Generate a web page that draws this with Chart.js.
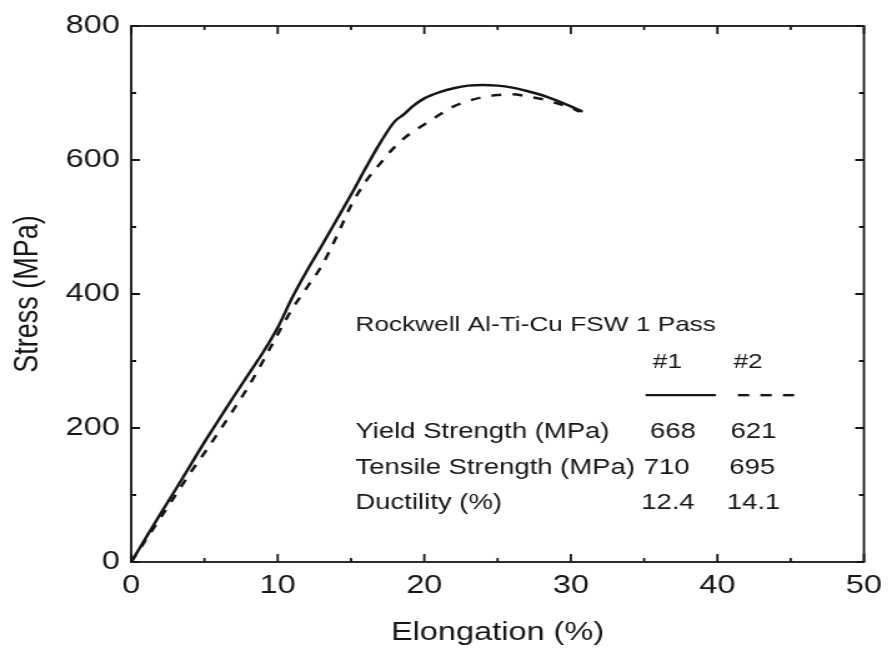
<!DOCTYPE html>
<html>
<head>
<meta charset="utf-8">
<script src="https://cdn.jsdelivr.net/npm/chart.js@4.4.1/dist/chart.umd.min.js"></script>
<style>
  html, body { margin: 0; padding: 0; background: #fff; overflow: hidden; }
  /* the scanned figure is wider than tall in its lettering, so stretch the canvas a bit */
  #wrap { width: 714px; height: 654px; transform: scaleX(1.2493); transform-origin: 0 0; }
  canvas { display: block; }
</style>
</head>
<body>
<div id="wrap"><canvas id="myChart" width="714" height="654" style="width:714px;height:654px"></canvas></div>
<script>
// Specimen #1 (solid)
const strain1 = [0, 1, 2, 3, 4, 5, 6, 7, 8, 9, 10, 11, 12, 13, 14, 15, 16, 17, 18, 18.6, 19.2, 20, 21, 22, 23, 24, 25, 26, 27, 28, 29, 30, 30.8];
const stress1 = [0, 36, 72, 107, 143, 179, 213, 247, 280, 313, 350, 395, 435, 472, 510, 548, 588, 626, 658, 668, 680, 692, 701, 707, 711, 712, 711, 708, 703, 697, 689, 680, 672];

// Specimen #2 (dashed)
const strain2 = [0, 1, 2, 3, 4, 5, 6, 7, 8, 9, 10, 11, 12, 13, 14, 15, 16, 17, 18, 19, 20, 21, 22, 23, 24, 25, 26, 27, 28, 29, 30, 30.6];
const stress2 = [0, 33, 66, 99, 132, 163, 195, 228, 262, 300, 340, 378, 410, 442, 485, 532, 568, 595, 620, 639, 653, 667, 680, 688, 694, 697, 698, 695, 691, 685, 678, 672];

// Axis ticks
const xTicks = [0, 10, 20, 30, 40, 50];
const yTicks = [0, 200, 400, 600, 800];

// Inset table
const noteTitle = "Rockwell Al-Ti-Cu FSW 1 Pass";
const specimens = ["#1", "#2"];
const properties = ["Yield Strength (MPa)", "Tensile Strength (MPa)", "Ductility (%)"];
const values1 = ["668", "710", "12.4"];
const values2 = ["621", "695", "14.1"];

const toPoints = (xs, ys) => xs.map((v, i) => ({ x: v, y: ys[i] }));

const INK = "#161616";
const FONT = "'Liberation Sans', Arial, Helvetica, sans-serif";

// frame, inward ticks and the inset table
const framePlugin = {
  id: "frame",
  afterDraw(chart) {
    const { ctx, chartArea: a, scales: { x, y } } = chart;
    ctx.save();
    ctx.strokeStyle = INK;
    ctx.lineWidth = 1.8;
    ctx.strokeRect(a.left, a.top, a.right - a.left, a.bottom - a.top);

    ctx.beginPath();
    for (let v = 0; v <= 50; v += 5) {
      const px = x.getPixelForValue(v);
      const len = v % 10 === 0 ? 8 : 4;
      ctx.moveTo(px, a.bottom); ctx.lineTo(px, a.bottom - len);
      ctx.moveTo(px, a.top); ctx.lineTo(px, a.top + len);
    }
    for (let v = 0; v <= 800; v += 100) {
      const py = y.getPixelForValue(v);
      const len = v % 200 === 0 ? 7 : 4;
      ctx.moveTo(a.left, py); ctx.lineTo(a.left + len, py);
      ctx.moveTo(a.right, py); ctx.lineTo(a.right - len, py);
    }
    ctx.stroke();

    // inset table
    const col0 = x.getPixelForValue(15.3);
    const col1 = x.getPixelForValue(35.4);
    const col2 = x.getPixelForValue(40.9);
    ctx.fillStyle = INK;
    ctx.textBaseline = "middle";
    ctx.textAlign = "left";
    ctx.font = "21px " + FONT;
    ctx.fillText(noteTitle, col0, y.getPixelForValue(353));
    ctx.fillText(specimens[0], x.getPixelForValue(35.6), y.getPixelForValue(298));
    ctx.fillText(specimens[1], x.getPixelForValue(41.1), y.getPixelForValue(298));

    const lineY = y.getPixelForValue(249);
    ctx.lineWidth = 2.4;
    ctx.beginPath();
    ctx.moveTo(x.getPixelForValue(35.1), lineY);
    ctx.lineTo(x.getPixelForValue(39.9), lineY);
    ctx.stroke();
    ctx.setLineDash([9, 9]);
    ctx.beginPath();
    ctx.moveTo(x.getPixelForValue(41.4), lineY);
    ctx.lineTo(x.getPixelForValue(45.8), lineY);
    ctx.stroke();
    ctx.setLineDash([]);

    ctx.font = "22px " + FONT;
    const rows = [194, 141, 88];
    const shift1 = [0, -5, -7];
    const shift2 = [0, -1, -3];
    properties.forEach((p, i) => {
      const py = y.getPixelForValue(rows[i]);
      ctx.fillText(p, col0, py);
      ctx.fillText(values1[i], col1 + shift1[i], py);
      ctx.fillText(values2[i], col2 + shift2[i], py);
    });
    ctx.restore();
  }
};

new Chart(document.getElementById("myChart"), {
  type: "scatter",
  data: {
    datasets: [
      {
        label: "#1",
        data: toPoints(strain1, stress1),
        showLine: true,
        borderColor: INK,
        borderWidth: 2.5,
        pointRadius: 0,
        cubicInterpolationMode: "monotone",
      },
      {
        label: "#2",
        data: toPoints(strain2, stress2),
        showLine: true,
        borderColor: INK,
        borderWidth: 2.5,
        borderDash: [8, 9],
        pointRadius: 0,
        cubicInterpolationMode: "monotone",
      },
    ],
  },
  options: {
    responsive: false,
    animation: false,
    devicePixelRatio: 1,
    layout: { padding: { left: 0, right: 20, top: 26, bottom: 0 } },
    plugins: {
      legend: { display: false },
      tooltip: { enabled: false },
    },
    scales: {
      x: {
        type: "linear",
        min: 0,
        max: 50,
        afterBuildTicks: (s) => { s.ticks = xTicks.map((v) => ({ value: v })); },
        afterFit: (s) => { s.height = 92; },
        ticks: { color: INK, padding: 8, font: { family: FONT, size: 26 } },
        grid: { display: false, drawTicks: false },
        border: { display: false },
        title: {
          display: true,
          text: "Elongation (%)",
          color: INK,
          font: { family: FONT, size: 26 },
          padding: { top: 4, bottom: 6 },
        },
      },
      y: {
        type: "linear",
        min: 0,
        max: 800,
        afterBuildTicks: (s) => { s.ticks = yTicks.map((v) => ({ value: v })); },
        afterFit: (s) => { s.width = 105; },
        ticks: { color: INK, padding: 9, font: { family: FONT, size: 26 } },
        grid: { display: false, drawTicks: false },
        border: { display: false },
        title: {
          display: true,
          text: "Stress (MPa)",
          color: INK,
          font: { family: FONT, size: 27 },
          padding: { top: 6, bottom: 6 },
        },
      },
    },
  },
  plugins: [framePlugin],
});
</script>
</body>
</html>
